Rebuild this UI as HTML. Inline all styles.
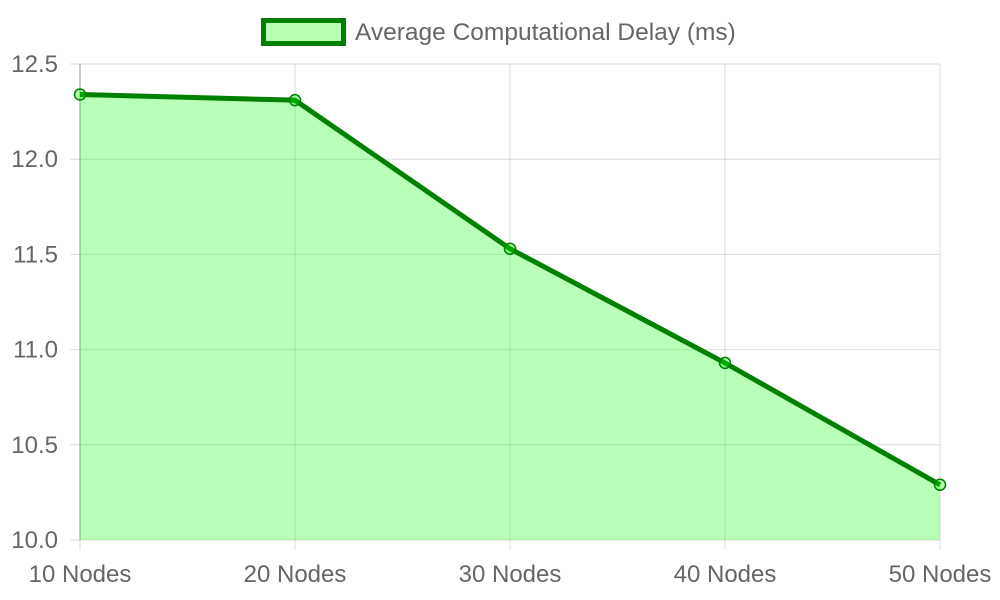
<!DOCTYPE html>
<html><head><meta charset="utf-8"><style>
html,body{margin:0;padding:0;background:#fff;width:1000px;height:600px;overflow:hidden}
svg text{font-family:"Liberation Sans",sans-serif;fill:#666}
</style></head><body>
<svg id="chart" width="1000" height="600"></svg>
<script>
const categories=["10 Nodes","20 Nodes","30 Nodes","40 Nodes","50 Nodes"];
const delayValues=[12.34,12.31,11.53,10.93,10.29];
const yTicks=[10.0,10.5,11.0,11.5,12.0,12.5];
const seriesLabel="Average Computational Delay (ms)";

const NS="http://www.w3.org/2000/svg";
const svg=document.getElementById('chart');
const L=80,R=940,T=64,B=540,yMin=10,yMax=12.5;
const xs=i=>L+(R-L)*i/(categories.length-1);
const ys=v=>B-(v-yMin)/(yMax-yMin)*(B-T);
function mk(tag,attrs,parent){const e=document.createElementNS(NS,tag);for(const k in attrs)e.setAttribute(k,attrs[k]);(parent||svg).appendChild(e);return e;}

const grid=mk('g',{});


yTicks.forEach(t=>{
  const y=ys(t);
  const ln=mk('line',{x1:L-10,x2:R,y1:y,y2:y,stroke:'rgba(0,0,0,0.13)','stroke-width':1},grid);
  
  
  const tx=mk('text',{x:L-22,y:y+8,'text-anchor':'end','font-size':24});
  tx.textContent=t.toFixed(1);
  
  
});
categories.forEach((c,i)=>{
  const x=xs(i);
  const ln=mk('line',{x1:x,x2:x,y1:T,y2:B+10,stroke:'rgba(0,0,0,0.13)','stroke-width':1},grid);
  
  
  const tx=mk('text',{x:x,y:582,'text-anchor':'middle','font-size':24});
  tx.textContent=c;
  
  
});
const ax=mk('line',{x1:L,x2:L,y1:T,y2:B,stroke:'rgba(0,0,0,0.3)'});



const pts=delayValues.map((v,i)=>[xs(i),ys(v)]);
const area=mk('path',{d:'M'+pts.map(p=>p.join(',')).join('L')+`L${xs(categories.length-1)},${B}L${L},${B}Z`,fill:'rgba(0,255,0,0.28)'});


const line=mk('polyline',{points:pts.map(p=>p.join(',')).join(' '),fill:'none',stroke:'#008000','stroke-width':5,'stroke-linejoin':'round'});


pts.forEach(p=>{
  const c=mk('circle',{cx:p[0],cy:p[1],r:5.5,fill:'rgba(0,255,0,0.3)',stroke:'#008000','stroke-width':1.5});
  
  
});

const lg=mk('g',{});


mk('rect',{x:263.5,y:20.5,width:80,height:23,fill:'#b7ffb1',stroke:'#008000','stroke-width':5},lg);
const lt=mk('text',{x:355,y:40,'font-size':24.5},lg);
lt.textContent=seriesLabel;
</script>
</body></html>
